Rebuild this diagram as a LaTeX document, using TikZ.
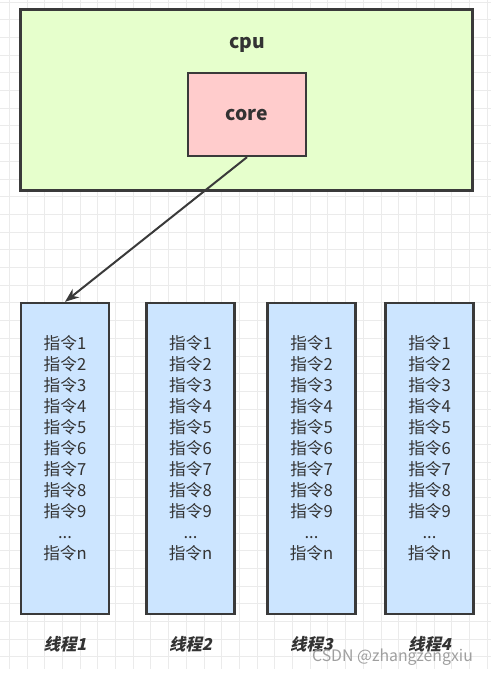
\documentclass[tikz,border=0pt]{standalone}
\usepackage{fontspec}
\newfontfamily\cjk{Noto Sans CJK SC}
\newfontfamily\cjkslant{Noto Sans CJK SC}[FakeSlant=0.22]
\usepackage{xcolor}
\usetikzlibrary{positioning,arrows.meta}

\definecolor{cpufill}{HTML}{E6FFCC}
\definecolor{corefill}{HTML}{FFCCCC}
\definecolor{threadfill}{HTML}{CCE5FF}
\definecolor{edge}{HTML}{3A3A3A}
\definecolor{ink}{HTML}{333333}
\definecolor{gridline}{HTML}{EBEBEB}

\begin{document}
\begin{tikzpicture}[
    x=0.03cm, y=-0.03cm,
    >={Stealth[length=0.42cm,width=0.32cm]},
    box/.style={rectangle, draw=edge, line width=2pt, inner sep=0pt},
    thread/.style={box, fill=threadfill, minimum width=2.64cm, minimum height=9.33cm},
    steps/.style={align=center, text=ink, font=\cjk\fontsize{14.2}{17.9}\selectfont},
    tname/.style={text=ink, font=\cjkslant\bfseries\fontsize{14}{16}\selectfont}
]
\useasboundingbox (0,0) rectangle (491,675);

% grid paper
\fill[white] (0,0) rectangle (491,675);
\foreach \k in {0,...,27} {
    \draw[gridline, line width=0.7pt] (9.3+\k*17.7, 0) -- (9.3+\k*17.7, 669);
}
\foreach \k in {0,...,37} {
    \draw[gridline, line width=0.7pt] (0, 2+\k*17.7) -- (491, 2+\k*17.7);
}

% cpu with one core
\node[box, fill=cpufill, minimum width=13.56cm, minimum height=5.43cm] (cpu) at (246.5, 100) {};
\node[text=ink, font=\cjk\bfseries\fontsize{16.5}{18}\selectfont] (cpulbl) at (247, 45) {cpu};
\node[box, fill=corefill, minimum width=3.54cm, minimum height=2.49cm,
      text=ink, font=\cjk\bfseries\fontsize{16.5}{18}\selectfont] (core) at (247, 114.5) {core};

% threads
\foreach \i/\x in {1/65, 2/190.5, 3/311.5, 4/429.5} {
    \node[thread] (t\i) at (\x, 458.5) {};
    \node[steps] (s\i) at (\x, 448.5)
        {指令1\\指令2\\指令3\\指令4\\指令5\\指令6\\指令7\\指令8\\指令9\\...\\指令n};
    \node[tname] (n\i) at (\x, 644) {线程\i};
}

% core runs thread 1
\draw[->, edge, line width=1.7pt] (core.south) -- (t1.north);

\node[anchor=east, text=gray!75, font=\cjk\fontsize{13.5}{15}\selectfont] (csdn) at (477, 657) {CSDN @zhangzengxiu};
\end{tikzpicture}
\end{document}
